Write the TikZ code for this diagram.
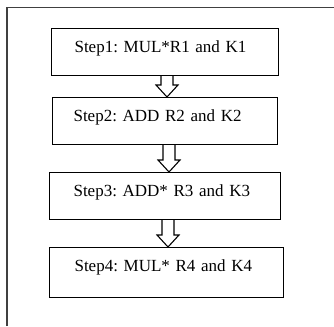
\documentclass[tikz,border=0pt]{standalone}
\usepackage{fontspec}
\setmainfont{Liberation Serif}
\usetikzlibrary{calc}
\frenchspacing
\tikzset{
  stepbox/.style n args={3}{draw=black, line width=1.1pt, rectangle, anchor=north west,
    font=\fontsize{17}{20}\selectfont, align=left, inner ysep=11pt, inner xsep=#3,
    text width=#1-2*#3, text height=13pt, text depth=#2-35pt},
  frame/.style={draw=black!75, line width=1.2pt},
  hollow/.style={draw=black, line width=1.1pt, fill=white, line join=miter}
}
\begin{document}
\begin{tikzpicture}[x=1pt,y=-1pt]
\useasboundingbox (0,0) rectangle (334,326);
\draw[frame] (7,326) -- (7,7.5) -- (334,7.5);
\node[stepbox={227pt}{47pt}{23pt}] (b1) at (51,28) {Step1: MUL*R1 and K1};
\node[stepbox={225pt}{47pt}{21pt}] (b2) at (52,97) {Step2: ADD R2 and K2};
\node[stepbox={231pt}{47pt}{24pt}] (b3) at (49,172) {Step3: ADD* R3 and K3};
\node[stepbox={234pt}{50pt}{25pt}] (b4) at (49,247) {Step4: MUL* R4 and K4};
\newcommand\hollowarrow[3]{%
  \draw[hollow] let \p1=(#2.south), \p2=(#3.north) in
    (#1pt-6pt,\y1) -- (#1pt-6pt,\y2+12pt) -- (#1pt-11pt,\y2+12pt) -- (#1pt,\y2)
    -- (#1pt+11pt,\y2+12pt) -- (#1pt+6pt,\y2+12pt) -- (#1pt+6pt,\y1);}
\hollowarrow{167}{b1}{b2}
\hollowarrow{169}{b2}{b3}
\hollowarrow{168}{b3}{b4}
\end{tikzpicture}
\end{document}
